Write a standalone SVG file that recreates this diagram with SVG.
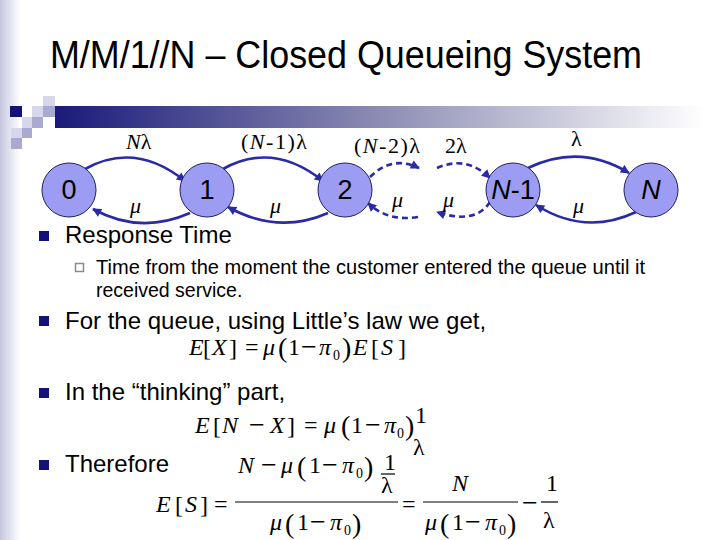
<svg xmlns="http://www.w3.org/2000/svg" width="720" height="540" viewBox="0 0 720 540">
<defs>
<linearGradient id="band" x1="0" y1="0" x2="1" y2="0">
<stop offset="0" stop-color="#c6c6df"/>
<stop offset="1" stop-color="#ffffff"/>
</linearGradient>
<linearGradient id="bar" x1="0" y1="0" x2="1" y2="0">
<stop offset="0" stop-color="#1a1a7a"/>
<stop offset="0.5" stop-color="#8c8cb4"/>
<stop offset="1" stop-color="#ffffff"/>
</linearGradient>
<marker id="ah" viewBox="0 0 10 10" refX="9" refY="5" markerWidth="11" markerHeight="9" markerUnits="userSpaceOnUse" orient="auto">
<path d="M0,0 L10,5 L0,10 z" fill="#2a2aa8"/>
</marker>
<style>
.t{font-family:"Liberation Sans",Arial,sans-serif;fill:#000}
.m{font-family:"Liberation Serif","Times New Roman",serif;font-size:24px;fill:#000}
.i{font-style:italic}
.mn{font-size:28px}
.lab{font-family:"Liberation Serif","Times New Roman",serif;font-size:22px;fill:#000}
.node{fill:#9b9cf2;stroke:#202060;stroke-width:1}
.nl{font-family:"Liberation Sans",Arial,sans-serif;font-size:27px;fill:#000;text-anchor:middle}
.c{fill:none;stroke:#2a2aa8;stroke-width:2.6;marker-end:url(#ah)}
.d{stroke-dasharray:6 4}
.b{fill:#12127a}
.par{font-size:28px}
.sub{font-size:14px}
.fb{stroke:#000;stroke-width:1.2}
</style>
</defs>
<rect width="720" height="540" fill="#fff"/>
<rect x="0" y="0" width="20" height="540" fill="url(#band)"/>
<!-- header decoration -->
<rect x="55" y="106" width="650" height="22" fill="url(#bar)"/>
<rect x="43" y="96" width="12" height="10" fill="#d6d6ec"/>
<rect x="10" y="106" width="12" height="11" fill="#12127a"/>
<rect x="32" y="106" width="11" height="11" fill="#d6d6ec"/>
<rect x="43" y="106" width="12" height="11" fill="#a9a9d2"/>
<rect x="22" y="117" width="10" height="11" fill="#d6d6ec"/>
<rect x="32" y="117" width="11" height="11" fill="#a9a9d2"/>
<rect x="11" y="128" width="11" height="10" fill="#d6d6ec"/>
<rect x="22" y="128" width="10" height="10" fill="#a9a9d2"/>
<rect x="11" y="138" width="11" height="11" fill="#a9a9d2"/>
<text class="t" x="50" y="68" font-size="39" textLength="592" lengthAdjust="spacingAndGlyphs">M/M/1//N – Closed Queueing System</text>

<g id="connectors">
<path class="c" d="M85,169 Q135,141 185,181"/>
<path class="c" d="M190,213 Q140,235 93,209"/>
<path class="c" d="M223,169 Q273,141 323,181"/>
<path class="c" d="M328,213 Q278,235 228,207"/>
<path class="c d" d="M370,177 Q392,155 419,168"/>
<path class="c d" d="M437,168 Q466,155 490,178"/>
<path class="c d" d="M418,217 Q388,222 368,203"/>
<path class="c d" d="M490,202 Q475,225 437,212"/>
<path class="c" d="M528,168 Q580,143 629,173"/>
<path class="c" d="M636,212 Q585,236 536,205"/>
</g>
<g id="edge-labels">
<text class="lab" x="126" y="149" font-size="23"><tspan class="i">N</tspan>λ</text>
<text class="lab" x="241" y="149" font-size="23" textLength="66">(<tspan class="i">N</tspan>-1)λ</text>
<text class="lab" x="354" y="153" font-size="23" textLength="66">(<tspan class="i">N</tspan>-2)λ</text>
<text class="lab" x="445" y="153" font-size="23">2λ</text>
<text class="lab" x="571" y="146" font-size="23">λ</text>
<text class="lab i" x="130" y="213">μ</text>
<text class="lab i" x="270" y="213">μ</text>
<text class="lab i" x="392" y="207">μ</text>
<text class="lab i" x="443" y="207">μ</text>
<text class="lab i" x="573" y="213">μ</text>
</g>
<g id="node-0"><circle class="node" cx="69" cy="190" r="27"/><text class="nl" x="69" y="199">0</text></g>
<g id="node-1"><circle class="node" cx="207" cy="190" r="27"/><text class="nl" x="207" y="199">1</text></g>
<g id="node-2"><circle class="node" cx="345" cy="190" r="27"/><text class="nl" x="345" y="199">2</text></g>
<g id="node-n1"><circle class="node" cx="513" cy="190" r="27"/><text class="nl" x="513" y="199"><tspan class="i">N</tspan>-1</text></g>
<g id="node-n"><circle class="node" cx="651" cy="190" r="27"/><text class="nl i" x="651" y="199">N</text></g>

<!-- bullets -->
<rect class="b" x="39" y="231" width="10" height="10"/>
<text class="t" x="65" y="243" font-size="24">Response Time</text>
<rect x="75.5" y="263.5" width="8" height="8" fill="none" stroke="#8a8a8a" stroke-width="1.5"/>
<text class="t" x="96" y="274" font-size="19.5" textLength="549" lengthAdjust="spacingAndGlyphs">Time from the moment the customer entered the queue until it</text>
<text class="t" x="96" y="297" font-size="19.5">received service.</text>
<rect class="b" x="39" y="316" width="10" height="10"/>
<text class="t" x="65" y="329" font-size="24">For the queue, using Little’s law we get,</text>
<rect class="b" x="39" y="388" width="10" height="10"/>
<text class="t" x="65" y="400" font-size="24">In the “thinking” part,</text>
<rect class="b" x="39" y="460" width="10" height="10"/>
<text class="t" x="65" y="472" font-size="24">Therefore</text>

<!-- equation 1 -->
<g id="eq1">
<text class="m i" x="189" y="355">E</text>
<text class="m" x="203" y="356" font-size="27">[</text>
<text class="m i" x="212" y="355">X</text>
<text class="m" x="229" y="356" font-size="27">]</text>
<text class="m" x="245" y="355">=</text>
<text class="m i" x="263" y="355">μ</text>
<text class="m par" x="278" y="357">(</text>
<text class="m" x="288" y="355">1</text>
<text class="m mn" x="301" y="356">−</text>
<text class="m i" x="319" y="355">π</text>
<text class="m sub" x="333" y="360">0</text>
<text class="m par" x="342" y="357">)</text>
<text class="m i" x="353" y="355">E</text>
<text class="m" x="371" y="356" font-size="27">[</text>
<text class="m i" x="381" y="355">S</text>
<text class="m" x="398" y="356" font-size="27">]</text>
</g>
<!-- equation 2 -->
<g id="eq2">
<text class="m i" x="195" y="433">E</text>
<text class="m" x="213" y="434" font-size="27">[</text>
<text class="m i" x="222" y="433">N</text>
<text class="m mn" x="249" y="434">−</text>
<text class="m i" x="270" y="433">X</text>
<text class="m" x="287" y="434" font-size="27">]</text>
<text class="m" x="304" y="433">=</text>
<text class="m i" x="324" y="433">μ</text>
<text class="m par" x="341" y="435">(</text>
<text class="m" x="351" y="433">1</text>
<text class="m mn" x="365" y="434">−</text>
<text class="m i" x="384" y="433">π</text>
<text class="m sub" x="397" y="438">0</text>
<text class="m par" x="405" y="435">)</text>
<text class="m" x="415" y="423" font-size="21">1</text>
<text class="m" x="413" y="455">λ</text>
</g>
<!-- equation 3 -->
<g id="eq3">
<text class="m i" x="156" y="512">E</text>
<text class="m" x="175" y="513" font-size="27">[</text>
<text class="m i" x="185" y="512">S</text>
<text class="m" x="200" y="513" font-size="27">]</text>
<text class="m" x="214" y="512">=</text>
<text class="m i" x="238" y="473">N</text>
<text class="m mn" x="261" y="474">−</text>
<text class="m i" x="281" y="473">μ</text>
<text class="m par" x="297" y="476">(</text>
<text class="m" x="309" y="473">1</text>
<text class="m mn" x="322" y="474">−</text>
<text class="m i" x="342" y="473">π</text>
<text class="m sub" x="356" y="478">0</text>
<text class="m par" x="364" y="476">)</text>
<text class="m" x="384" y="470" font-size="21">1</text>
<line class="fb" x1="381" y1="474" x2="395" y2="474"/>
<text class="m" x="381" y="493">λ</text>
<line class="fb" x1="235" y1="502" x2="398" y2="502"/>
<text class="m i" x="270" y="530">μ</text>
<text class="m par" x="285" y="533">(</text>
<text class="m" x="297" y="530">1</text>
<text class="m mn" x="310" y="531">−</text>
<text class="m i" x="330" y="530">π</text>
<text class="m sub" x="344" y="535">0</text>
<text class="m par" x="352" y="533">)</text>
<text class="m" x="402" y="512">=</text>
<text class="m i" x="452" y="491">N</text>
<line class="fb" x1="423" y1="502" x2="518" y2="502"/>
<text class="m i" x="425" y="530">μ</text>
<text class="m par" x="440" y="533">(</text>
<text class="m" x="452" y="530">1</text>
<text class="m mn" x="465" y="531">−</text>
<text class="m i" x="485" y="530">π</text>
<text class="m sub" x="499" y="535">0</text>
<text class="m par" x="507" y="533">)</text>
<text class="m mn" x="522" y="512">−</text>
<text class="m" x="546" y="491">1</text>
<line class="fb" x1="541" y1="502" x2="558" y2="502"/>
<text class="m" x="543" y="528">λ</text>
</g>
</svg>
